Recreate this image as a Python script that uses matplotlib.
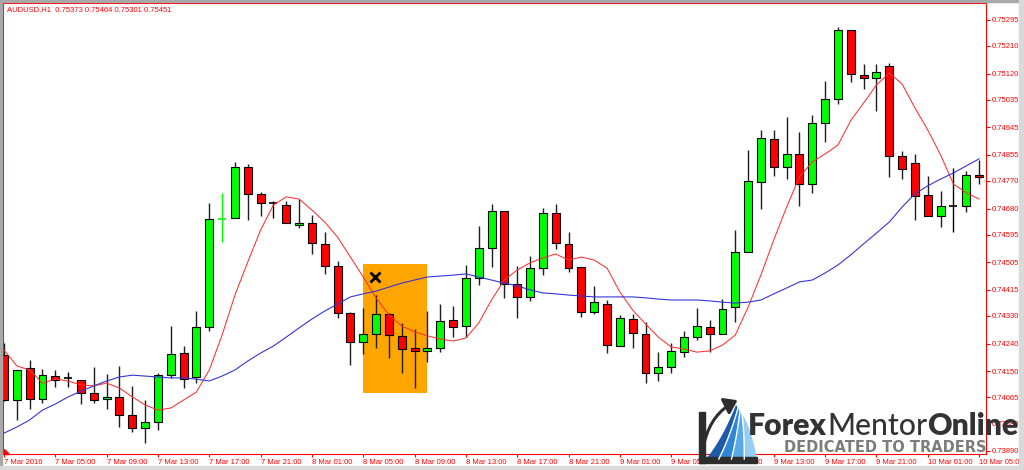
import matplotlib
matplotlib.use("Agg")
import matplotlib.pyplot as plt
from matplotlib.patches import Rectangle, Polygon, FancyArrowPatch
import numpy as np

# ---------------- data (AUDUSD H1) ----------------
opens = [0.74203, 0.74056, 0.74160, 0.74059, 0.74135, 0.74128, 0.74121, 0.74079, 0.74059, 0.74066,
         0.74007, 0.73965, 0.73984, 0.74137, 0.74209, 0.74131, 0.74294, 0.74646, 0.74649, 0.74816,
         0.74728, 0.74698, 0.74692, 0.74626, 0.74633, 0.74565, 0.74493, 0.74340, 0.74245, 0.74271,
         0.74336, 0.74265, 0.74226, 0.74216, 0.74226, 0.74317, 0.74297, 0.74454, 0.74552, 0.74672,
         0.74434, 0.74392, 0.74486, 0.74666, 0.74565, 0.74490, 0.74343, 0.74369, 0.74232, 0.74320,
         0.74271, 0.74144, 0.74164, 0.74212, 0.74261, 0.74294, 0.74271, 0.74359, 0.74538, 0.74767,
         0.74907, 0.74816, 0.74858, 0.74760, 0.74959, 0.75037, 0.75262, 0.75115, 0.75106, 0.75145,
         0.74851, 0.74829, 0.74724, 0.74656, 0.74688, 0.74688, 0.74789]
highs = [0.74242, 0.74154, 0.74186, 0.74157, 0.74154, 0.74147, 0.74121, 0.74164, 0.74141, 0.74167,
         0.74102, 0.74056, 0.74144, 0.74297, 0.74232, 0.74346, 0.74698, 0.74731, 0.74832, 0.74825,
         0.74734, 0.74705, 0.74705, 0.74711, 0.74659, 0.74604, 0.74509, 0.74343, 0.74356, 0.74398,
         0.74340, 0.74307, 0.74287, 0.74346, 0.74369, 0.74362, 0.74496, 0.74623, 0.74695, 0.74672,
         0.74493, 0.74525, 0.74682, 0.74695, 0.74604, 0.74490, 0.74428, 0.74382, 0.74333, 0.74336,
         0.74310, 0.74212, 0.74242, 0.74281, 0.74356, 0.74317, 0.74385, 0.74610, 0.74871, 0.74936,
         0.74936, 0.74979, 0.74930, 0.74985, 0.75096, 0.75272, 0.75262, 0.75151, 0.75151, 0.75155,
         0.74868, 0.74858, 0.74786, 0.74737, 0.74812, 0.74803, 0.74838]
lows = [0.74054, 0.73991, 0.74027, 0.74046, 0.74098, 0.74098, 0.74043, 0.74046, 0.74027, 0.73968,
        0.73952, 0.73916, 0.73958, 0.74128, 0.74095, 0.74111, 0.74281, 0.74571, 0.74649, 0.74643,
        0.74656, 0.74649, 0.74633, 0.74617, 0.74532, 0.74467, 0.74323, 0.74170, 0.74206, 0.74226,
        0.74193, 0.74144, 0.74095, 0.74180, 0.74212, 0.74261, 0.74261, 0.74431, 0.74490, 0.74389,
        0.74323, 0.74379, 0.74463, 0.74548, 0.74473, 0.74327, 0.74336, 0.74209, 0.74232, 0.74226,
        0.74111, 0.74118, 0.74144, 0.74196, 0.74252, 0.74212, 0.74271, 0.74310, 0.74538, 0.74679,
        0.74786, 0.74776, 0.74688, 0.74731, 0.74897, 0.75021, 0.75093, 0.75070, 0.74998, 0.74783,
        0.74776, 0.74643, 0.74656, 0.74620, 0.74604, 0.74669, 0.74760]
closes = [0.74056, 0.74154, 0.74059, 0.74137, 0.74121, 0.74128, 0.74079, 0.74056, 0.74066, 0.74007,
          0.73965, 0.73984, 0.74137, 0.74206, 0.74124, 0.74294, 0.74646, 0.74647, 0.74816, 0.74728,
          0.74698, 0.74698, 0.74633, 0.74633, 0.74568, 0.74493, 0.74340, 0.74245, 0.74271, 0.74336,
          0.74268, 0.74222, 0.74216, 0.74226, 0.74314, 0.74294, 0.74454, 0.74552, 0.74672, 0.74434,
          0.74392, 0.74486, 0.74666, 0.74568, 0.74486, 0.74343, 0.74375, 0.74235, 0.74323, 0.74274,
          0.74144, 0.74164, 0.74216, 0.74261, 0.74297, 0.74271, 0.74353, 0.74538, 0.74770, 0.74910,
          0.74816, 0.74858, 0.74760, 0.74959, 0.75037, 0.75262, 0.75119, 0.75106, 0.75125, 0.74851,
          0.74809, 0.74721, 0.74656, 0.74688, 0.74688, 0.74789, 0.74783]

ma_fast = [0.74219, 0.74167, 0.74154, 0.74111, 0.74124, 0.74118, 0.74105, 0.74102, 0.74111, 0.74095,
           0.74066, 0.74040, 0.74023, 0.74030, 0.74056, 0.74082, 0.74154, 0.74268, 0.74398, 0.74506,
           0.74610, 0.74692, 0.74718, 0.74711, 0.74675, 0.74636, 0.74587, 0.74522, 0.74457, 0.74389,
           0.74333, 0.74297, 0.74278, 0.74265, 0.74255, 0.74248, 0.74258, 0.74307, 0.74382, 0.74447,
           0.74480, 0.74503, 0.74519, 0.74532, 0.74512, 0.74522, 0.74512, 0.74486, 0.74408, 0.74349,
           0.74304, 0.74261, 0.74229, 0.74222, 0.74212, 0.74216, 0.74235, 0.74268, 0.74359, 0.74464,
           0.74578, 0.74685, 0.74783, 0.74832, 0.74858, 0.74887, 0.74967, 0.75024, 0.75083, 0.75122,
           0.75086, 0.75008, 0.74936, 0.74855, 0.74760, 0.74731, 0.74711]
ma_slow = [0.73948, 0.73968, 0.73991, 0.74023, 0.74043, 0.74066, 0.74085, 0.74102, 0.74118, 0.74131,
           0.74137, 0.74134, 0.74131, 0.74128, 0.74128, 0.74124, 0.74118, 0.74134, 0.74154, 0.74183,
           0.74209, 0.74232, 0.74261, 0.74291, 0.74320, 0.74346, 0.74369, 0.74392, 0.74402, 0.74411,
           0.74424, 0.74437, 0.74447, 0.74457, 0.74460, 0.74463, 0.74467, 0.74457, 0.74447, 0.74437,
           0.74428, 0.74415, 0.74405, 0.74402, 0.74398, 0.74395, 0.74392, 0.74392, 0.74392, 0.74392,
           0.74389, 0.74385, 0.74382, 0.74382, 0.74382, 0.74379, 0.74375, 0.74372, 0.74375, 0.74382,
           0.74402, 0.74421, 0.74441, 0.74447, 0.74470, 0.74496, 0.74529, 0.74565, 0.74600, 0.74636,
           0.74685, 0.74728, 0.74754, 0.74776, 0.74796, 0.74819, 0.74842]

time_labels = ["7 Mar 2016", "7 Mar 05:00", "7 Mar 09:00", "7 Mar 13:00", "7 Mar 17:00",
               "7 Mar 21:00", "8 Mar 01:00", "8 Mar 05:00", "8 Mar 09:00", "8 Mar 13:00",
               "8 Mar 17:00", "8 Mar 21:00", "9 Mar 01:00", "9 Mar 05:00", "9 Mar 09:00",
               "9 Mar 13:00", "9 Mar 17:00", "9 Mar 21:00", "10 Mar 01:00", "10 Mar 05:00"]
time_label_step = 4
price_ticks = [0.75295, 0.75210, 0.75120, 0.75035, 0.74945, 0.74855, 0.74770, 0.74680, 0.74595,
               0.74505, 0.74415, 0.74330, 0.74240, 0.74150, 0.74065, 0.73980, 0.73890]
header = "AUDUSD,H1  0.75373 0.75464 0.75301 0.75451"

# highlighted zone (bar index span, price span) and the cross mark
zone_bars = (28, 33)
zone_prices = (0.74079, 0.74499)
mark_bar, mark_price = 28.9, 0.74457

# ---------------- figure ----------------
W, H = 1024, 470
fig = plt.figure(figsize=(W / 100, H / 100), dpi=100)
fig.patch.set_facecolor("white")

def fx(px):
    return px / W

def fy(py):
    return 1 - py / H

AX_L, AX_R, AX_T, AX_B = 3, 986, 3, 454
ax = fig.add_axes([fx(AX_L), fy(AX_B), fx(AX_R) - fx(AX_L), fy(AX_T) - fy(AX_B)])
BAR_PX = 12.83
X0_PX = 4
ax.set_xlim((AX_L - X0_PX) / BAR_PX, (AX_R - X0_PX) / BAR_PX)
ax.set_ylim(0.73880, 0.75350)

AXC = "#ff0000"
for s in ax.spines.values():
    s.set_color(AXC)
    s.set_linewidth(0.8)

GREEN, RED, EDGE, WICK = "#00ff00", "#ff0000", "#000000", "#1e1e1e"
bw = 0.62
n = len(opens)
idx = np.arange(n)

# zone behind everything
ax.add_patch(Rectangle((zone_bars[0], zone_prices[0]), zone_bars[1] - zone_bars[0],
                       zone_prices[1] - zone_prices[0], facecolor="#ffa500",
                       edgecolor="none", zorder=0.5))

for i in range(n):
    o, h, l, c = opens[i], highs[i], lows[i], closes[i]
    if abs(c - o) < 0.000015:
        col = GREEN if c > o else (RED if c < o else "#000000")
        ax.vlines(i, l, h, color=col, lw=1.0, zorder=3)
        ax.hlines((o + c) / 2, i - bw / 2, i + bw / 2, color=col, lw=1.2, zorder=3.2)
        continue
    ax.vlines(i, l, h, color=WICK, lw=1.0, zorder=3)
    fc = GREEN if c > o else RED
    ax.add_patch(Rectangle((i - bw / 2, min(o, c)), bw, abs(c - o), facecolor=fc,
                           edgecolor=EDGE, lw=0.8, zorder=3.1))

ax.plot(idx, ma_fast, color="#ff3030", lw=0.75, zorder=4)
ax.plot(idx, ma_slow, color="#3535d8", lw=0.8, zorder=4)
ax.plot([mark_bar], [mark_price], marker="x", ms=6.5, mew=2.0, color="black", zorder=5)

# axes ticks
LBL = dict(family="Liberation Sans", size=5.5, color=AXC)
ax.yaxis.tick_right()
ax.set_yticks(price_ticks)
ax.set_yticklabels(["%.5f" % p for p in price_ticks], **LBL)
ax.tick_params(axis="y", direction="out", length=3, width=0.8, pad=1.2, colors=AXC)
ax.set_xticks(np.arange(0, n, time_label_step)[:len(time_labels)])
ax.set_xticklabels(time_labels, ha="left", **LBL)
ax.tick_params(axis="x", direction="out", length=2.5, width=0.8, pad=1.0, colors=AXC)

fig.text(fx(7), fy(10), header, va="center", ha="left", **LBL)

# ---------------- overlay: window frame + logo ----------------
ov = fig.add_axes([0, 0, 1, 1])
ov.set_xlim(0, W)
ov.set_ylim(H, 0)
ov.axis("off")
ov.set_zorder(10)
ov.patch.set_alpha(0)

ov.add_patch(Rectangle((0, 0), 2, H, color="#a8a8a8"))
ov.add_patch(Rectangle((0, 0), W, 2, color="#a8a8a8"))
ov.add_patch(Rectangle((1019, 0), 5, H, color="#d9d9d9"))
ov.add_patch(Rectangle((0, 466), W, 4, color="#d9d9d9"))
ov.add_patch(Polygon([(4, 449), (4, 454), (9, 454)], closed=True, color=AXC))

# logo icon
def qbez(p0, p1, p2, m=30):
    t = np.linspace(0, 1, m)[:, None]
    p0, p1, p2 = map(np.asarray, (p0, p1, p2))
    return (1 - t) ** 2 * p0 + 2 * (1 - t) * t * p1 + t ** 2 * p2

curves = []
for k in range(5):
    p0 = (706 + 12.75 * k, 459)
    p2 = (736 + 2 * k, 405 + 3 * k)
    p1 = (722 + 7.5 * k, 440 - 2 * k)
    curves.append(qbez(p0, p1, p2))
band_cols = ["#1d5aa8", "#2f86d4", "#58a9e6", "#96cdf2"]
for k in range(4):
    pts = np.vstack([curves[k], curves[k + 1][::-1]])
    ov.add_patch(Polygon(pts, closed=True, facecolor=band_cols[k], edgecolor="none"))
for k in range(1, 4):
    ov.plot(curves[k][:, 0], curves[k][:, 1], color="white", lw=1.0)
ov.add_patch(Rectangle((699, 412), 6, 51, color="#2d2d2d"))
ov.add_patch(Rectangle((699, 457), 58, 6, color="#2d2d2d"))
ov.add_patch(FancyArrowPatch((704, 444), (740, 399), connectionstyle="arc3,rad=-0.25",
                             arrowstyle="-|>,head_length=5,head_width=3.5", lw=2.2,
                             color="#2d2d2d", mutation_scale=1.5))

# logo text
fig.canvas.draw()
r = fig.canvas.get_renderer()
parts = [("Forex", "heavy"), ("Mentor", "medium"), ("Online", "heavy")]
x_start, x_end, base = 748, 1018, 435

def place(size):
    objs = []
    x = x_start
    for s, wgt in parts:
        t = fig.text(fx(x), fy(base), s, fontsize=size, weight=wgt, family="Lato",
                     color="#333333", va="baseline", ha="left", zorder=20)
        bb = t.get_window_extent(r)
        x = bb.x1
        objs.append(t)
    return objs, x

objs, xe = place(18)
scale = (x_end - x_start) / (xe - x_start)
for o in objs:
    o.remove()
objs, xe = place(18 * scale)

fig.text(fx(885), fy(452), "DEDICATED TO TRADERS", fontsize=10.5, weight="bold",
         family="DejaVu Sans", color="#7c7c7c", va="baseline", ha="center", zorder=20)

fig.savefig("out.png", dpi=100, facecolor="white")
